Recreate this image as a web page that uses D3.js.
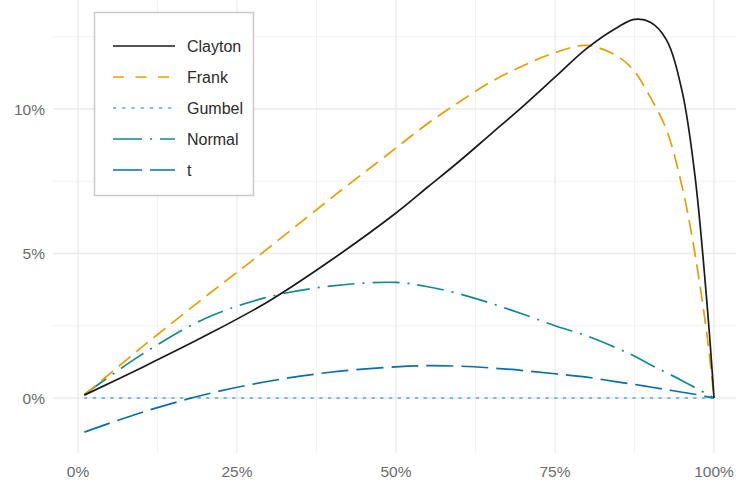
<!DOCTYPE html>
<html>
<head>
<meta charset="utf-8">
<script src="https://cdn.jsdelivr.net/npm/d3@7"></script>
<style>
  html, body { margin: 0; padding: 0; background: #fff; }
  svg { display: block; font-family: "Liberation Sans", Arial, sans-serif; }
</style>
</head>
<body>
<svg id="chart" width="736" height="482"></svg>
<script>
// ---- data ----
const xs      = [0.01, 0.1, 0.2, 0.3, 0.4, 0.5, 0.55, 0.6, 0.65, 0.7, 0.75, 0.8, 0.85, 0.875, 0.9, 0.925, 0.95, 0.97, 0.99, 1.0];
const clayton = [0.1, 1.05, 2.15, 3.35, 4.8, 6.4, 7.3, 8.2, 9.15, 10.1, 11.1, 12.1, 12.85, 13.1, 13.0, 12.4, 10.6, 7.7, 3.0, 0];
const frank   = [0.1, 1.75, 3.5, 5.2, 6.95, 8.65, 9.5, 10.25, 10.95, 11.5, 11.95, 12.2, 11.8, 11.3, 10.4, 9.3, 7.3, 5.0, 2.0, 0];
const gumbel  = [0, 0, 0, 0, 0, 0, 0, 0, 0, 0, 0, 0, 0, 0, 0, 0, 0, 0, 0, 0];
const normal  = [0.12, 1.5, 2.75, 3.5, 3.88, 4.0, 3.85, 3.6, 3.27, 2.9, 2.5, 2.15, 1.7, 1.45, 1.15, 0.88, 0.6, 0.36, 0.12, 0];
const tcop    = [-1.18, -0.5, 0.12, 0.58, 0.9, 1.08, 1.12, 1.1, 1.04, 0.95, 0.84, 0.72, 0.55, 0.47, 0.38, 0.29, 0.2, 0.13, 0.04, 0];
const seriesNames = ["Clayton", "Frank", "Gumbel", "Normal", "t"];
const xTicks = [0, 0.25, 0.5, 0.75, 1];
const xTickLabels = ["0%", "25%", "50%", "75%", "100%"];
const yTicks = [0, 5, 10];
const yTickLabels = ["0%", "5%", "10%"];

const seriesValues = [clayton, frank, gumbel, normal, tcop];
const styles = {
  Clayton: { color: "#1a1a1a", dash: null,            legendDash: null },
  Frank:   { color: "#E69F00", dash: "15,7.5",        legendDash: "11,11.5" },
  Gumbel:  { color: "#4EA8E2", dash: "3.2,5.5",       legendDash: "3.2,6" },
  Normal:  { color: "#0E8A92", dash: "27,8,2,8",      legendDash: "29,8,2,8" },
  t:       { color: "#0A6EAA", dash: "27,8",          legendDash: "29,8" }
};

// ---- layout ----
const svg = d3.select("#chart");
const panel = { left: 53, right: 736, top: 0, bottom: 453 };
const x = d3.scaleLinear().domain([0, 1]).range([78, 714]);
const y = d3.scaleLinear().domain([0, 10]).range([398, 109]);

// grid
const g = svg.append("g");
const xMinor = [0.125, 0.375, 0.625, 0.875];
const yMinor = [2.5, 7.5, 12.5];
g.selectAll(".xminor").data(xMinor).enter().append("line")
  .attr("x1", d => x(d)).attr("x2", d => x(d))
  .attr("y1", panel.top).attr("y2", panel.bottom)
  .attr("stroke", "#F2F2F2").attr("stroke-width", 1);
g.selectAll(".yminor").data(yMinor).enter().append("line")
  .attr("y1", d => y(d)).attr("y2", d => y(d))
  .attr("x1", panel.left).attr("x2", panel.right)
  .attr("stroke", "#F2F2F2").attr("stroke-width", 1);
g.selectAll(".xmajor").data(xTicks).enter().append("line")
  .attr("x1", d => x(d)).attr("x2", d => x(d))
  .attr("y1", panel.top).attr("y2", panel.bottom)
  .attr("stroke", "#EBEBEB").attr("stroke-width", 1.4);
g.selectAll(".ymajor").data(yTicks).enter().append("line")
  .attr("y1", d => y(d)).attr("y2", d => y(d))
  .attr("x1", panel.left).attr("x2", panel.right)
  .attr("stroke", "#EBEBEB").attr("stroke-width", 1.4);

// axis labels
svg.selectAll(".xlab").data(xTicks).enter().append("text")
  .attr("x", d => x(d)).attr("y", 477)
  .attr("text-anchor", "middle")
  .attr("font-size", "15.5px").attr("fill", "#6b6b6b")
  .text((d, i) => xTickLabels[i]);
svg.selectAll(".ylab").data(yTicks).enter().append("text")
  .attr("x", 45).attr("y", d => y(d)).attr("dy", "0.36em")
  .attr("text-anchor", "end")
  .attr("font-size", "15.5px").attr("fill", "#6b6b6b")
  .text((d, i) => yTickLabels[i]);

// lines
const line = d3.line()
  .x(d => x(d[0])).y(d => y(d[1]))
  .curve(d3.curveCatmullRom.alpha(0.5));
const drawOrder = ["Gumbel", "t", "Normal", "Frank", "Clayton"];
drawOrder.forEach(name => {
  const vals = seriesValues[seriesNames.indexOf(name)];
  const pts = xs.map((xv, i) => [xv, vals[i]]);
  svg.append("path")
    .attr("d", line(pts))
    .attr("fill", "none")
    .attr("stroke", styles[name].color)
    .attr("stroke-width", 1.7)
    .attr("stroke-dasharray", styles[name].dash)
    .attr("stroke-linecap", "butt");
});

// legend
const lg = svg.append("g");
lg.append("rect")
  .attr("x", 94.5).attr("y", 12.5).attr("width", 159).attr("height", 183)
  .attr("fill", "#fff").attr("stroke", "#CCCCCC").attr("stroke-width", 1.6);
const rowY = [46, 77, 108, 139, 170];
seriesNames.forEach((name, i) => {
  lg.append("line")
    .attr("x1", 113).attr("x2", 175)
    .attr("y1", rowY[i]).attr("y2", rowY[i])
    .attr("stroke", styles[name].color)
    .attr("stroke-width", 1.7)
    .attr("stroke-dasharray", styles[name].legendDash);
  lg.append("text")
    .attr("x", 187).attr("y", rowY[i]).attr("dy", "0.36em")
    .attr("font-size", "16px").attr("fill", "#2b2b2b")
    .text(name);
});
</script>
</body>
</html>
